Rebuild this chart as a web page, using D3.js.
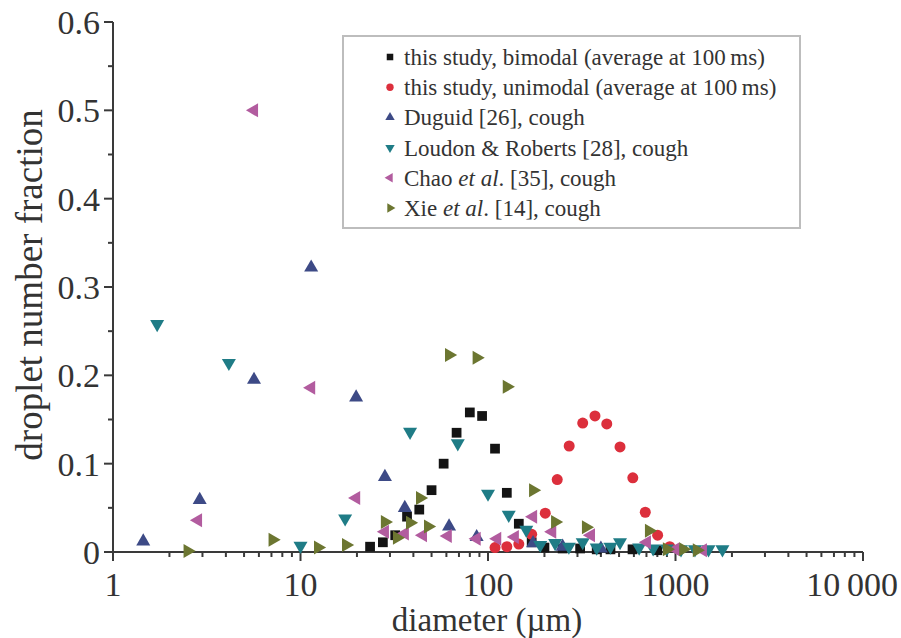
<!DOCTYPE html>
<head>
<meta charset="utf-8">
<title>Droplet number fraction</title>
<script type="text/javascript" src="https://d3js.org/d3.v7.min.js"></script>
<style>
  body { margin: 0; background: #fff; }
</style>
</head>
<body>
<div id="container"></div>
<script>
//---------------------------DATA-------------------------------//
// diameter (um) and number fraction
const bimodalD = [23.5, 27.5, 32, 37, 43, 50, 58, 68, 80, 93, 109, 126, 146, 171, 200, 250, 310, 380, 450, 590, 800];
const bimodalV = [0.006, 0.011, 0.019, 0.040, 0.048, 0.070, 0.100, 0.135, 0.158, 0.154, 0.117, 0.067, 0.032, 0.011, 0.005, 0.004, 0.004, 0.003, 0.003, 0.003, 0.002];

const unimodalD = [109, 126, 146, 171, 202, 234, 271, 320, 372, 430, 506, 592, 690, 803, 932];
const unimodalV = [0.005, 0.006, 0.009, 0.020, 0.044, 0.082, 0.120, 0.146, 0.154, 0.145, 0.119, 0.084, 0.045, 0.019, 0.006];

const duguidD = [1.45, 2.9, 5.65, 11.4, 19.8, 28.2, 36, 62, 87, 174, 250, 400];
const duguidV = [0.012, 0.059, 0.195, 0.322, 0.175, 0.085, 0.050, 0.029, 0.017, 0.010, 0.006, 0.004];

const loudonD = [1.72, 4.15, 10, 17.3, 38.4, 69, 100, 129, 160, 190, 228, 270, 320, 380, 450, 506, 640, 760, 900, 1070, 1270, 1500, 1780];
const loudonV = [0.258, 0.214, 0.007, 0.038, 0.136, 0.123, 0.066, 0.042, 0.025, 0.008, 0.010, 0.006, 0.011, 0.005, 0.006, 0.011, 0.005, 0.004, 0.004, 0.003, 0.003, 0.003, 0.003];

const chaoD = [2.84, 5.65, 11.4, 19.8, 28.2, 36, 45, 61, 87, 112, 139, 174, 220, 354, 704, 1000, 1400];
const chaoV = [0.036, 0.50, 0.186, 0.061, 0.023, 0.021, 0.019, 0.018, 0.015, 0.015, 0.017, 0.040, 0.023, 0.019, 0.011, 0.003, 0.002];

const xieD = [2.5, 7.1, 12.4, 17.5, 28.2, 32.7, 38.4, 43.4, 47.9, 62, 87, 126, 174, 228, 333, 722, 900, 1100, 1300];
const xieV = [0.001, 0.014, 0.005, 0.008, 0.034, 0.016, 0.033, 0.061, 0.029, 0.223, 0.220, 0.187, 0.070, 0.034, 0.028, 0.024, 0.003, 0.003, 0.002];

const yTicks = [0, 0.1, 0.2, 0.3, 0.4, 0.5, 0.6];
const yTickLabels = ["0", "0.1", "0.2", "0.3", "0.4", "0.5", "0.6"];
const xTicks = [1, 10, 100, 1000, 10000];
const xTickLabels = ["1", "10", "100", "1000", "10\u2009000"];

const seriesNames = [
  ["this study, bimodal (average at 100\u2009ms)"],
  ["this study, unimodal (average at 100\u2009ms)"],
  ["Duguid [26], cough"],
  ["Loudon & Roberts [28], cough"],
  ["Chao ", "et al", ". [35], cough"],
  ["Xie ", "et al", ". [14], cough"]
];

//---------------------------SVG--------------------------------//
const width = 901;
const height = 638;
const serif = "'Liberation Serif', 'Times New Roman', Times, 'DejaVu Serif', serif";
const textColor = "#333";
const svg = d3.select("div#container").append("svg")
    .attr("width", width)
    .attr("height", height)
    .style("font-family", serif);

//--------------------------SCALES------------------------------//
const x = d3.scaleLog().domain([1, 10000]).range([113, 863]);
const y = d3.scaleLinear().domain([0, 0.6]).range([552, 22]);

// series styles
const series = [
  {d: bimodalD, v: bimodalV, color: "#141414", shape: d3.symbolSquare, size: 95, rot: 0},
  {d: unimodalD, v: unimodalV, color: "#dc2f3c", shape: d3.symbolCircle, size: 95, rot: 0},
  {d: duguidD, v: duguidV, color: "#3d4a86", shape: d3.symbolTriangle, size: 85, rot: 0},
  {d: loudonD, v: loudonV, color: "#1f7c86", shape: d3.symbolTriangle, size: 85, rot: 180},
  {d: chaoD, v: chaoV, color: "#b25c9f", shape: d3.symbolTriangle, size: 85, rot: -90},
  {d: xieD, v: xieV, color: "#6c7631", shape: d3.symbolTriangle, size: 85, rot: 90}
];

//---------------------------AXES-------------------------------//
const axisColor = "#3a3a3a";
const gAxes = svg.append("g");

// y axis line
gAxes.append("line")
    .attr("x1", x(1)).attr("x2", x(1))
    .attr("y1", y(0)).attr("y2", y(0.6))
    .attr("stroke", axisColor).attr("stroke-width", 2);

// y ticks (major + minor, outside)
const yMinor = d3.range(0, 0.601, 0.05);
gAxes.selectAll(".ytick")
    .data(yMinor)
    .enter().append("line")
    .attr("x1", x(1))
    .attr("x2", function(d) { return Math.abs(d * 10 - Math.round(d * 10)) < 1e-6 ? x(1) - 9 : x(1) - 5; })
    .attr("y1", function(d) { return y(d); })
    .attr("y2", function(d) { return y(d); })
    .attr("stroke", axisColor).attr("stroke-width", 2);

gAxes.selectAll(".ylab")
    .data(yTicks)
    .enter().append("text")
    .attr("x", x(1) - 13)
    .attr("y", function(d) { return y(d); })
    .attr("dy", "0.35em")
    .attr("text-anchor", "end")
    .attr("fill", textColor)
    .style("font-family", serif)
    .style("font-size", "34px")
    .text(function(d, i) { return yTickLabels[i]; });

// x axis line
gAxes.append("line")
    .attr("x1", x(1)).attr("x2", x(10000))
    .attr("y1", y(0)).attr("y2", y(0))
    .attr("stroke", axisColor).attr("stroke-width", 2);

// x ticks, minor at 2..9 per decade
const xMinor = [];
[1, 10, 100, 1000].forEach(function(dec) {
  for (let k = 2; k <= 9; k++) xMinor.push(dec * k);
});
gAxes.selectAll(".xminor")
    .data(xMinor)
    .enter().append("line")
    .attr("x1", function(d) { return x(d); })
    .attr("x2", function(d) { return x(d); })
    .attr("y1", y(0)).attr("y2", y(0) + 5)
    .attr("stroke", axisColor).attr("stroke-width", 2);

gAxes.selectAll(".xmajor")
    .data(xTicks)
    .enter().append("line")
    .attr("x1", function(d) { return x(d); })
    .attr("x2", function(d) { return x(d); })
    .attr("y1", y(0)).attr("y2", y(0) + 9)
    .attr("stroke", axisColor).attr("stroke-width", 2);

// last label is pulled in so that it stays inside the picture
gAxes.selectAll(".xlab")
    .data(xTicks)
    .enter().append("text")
    .attr("x", function(d) { return d === 10000 ? 898 : x(d); })
    .attr("y", 596)
    .attr("text-anchor", function(d) { return d === 10000 ? "end" : "middle"; })
    .attr("fill", textColor)
    .style("font-family", serif)
    .style("font-size", "34px")
    .text(function(d, i) { return xTickLabels[i]; });

// axis titles
svg.append("text")
    .attr("x", 487)
    .attr("y", 631)
    .attr("text-anchor", "middle")
    .attr("fill", textColor)
    .style("font-family", serif)
    .style("font-size", "33px")
    .text("diameter (\u00b5m)");

svg.append("text")
    .attr("transform", "translate(42,285) rotate(-90)")
    .attr("text-anchor", "middle")
    .attr("fill", textColor)
    .style("font-family", serif)
    .style("font-size", "37px")
    .text("droplet number fraction");

//--------------------------POINTS------------------------------//
series.forEach(function(s) {
  const sym = d3.symbol().type(s.shape).size(s.size);
  svg.append("g").selectAll("path")
      .data(s.d.map(function(d, i) { return {d: d, v: s.v[i]}; }))
      .enter().append("path")
      .attr("d", sym)
      .attr("transform", function(p) {
        return "translate(" + x(p.d) + "," + y(p.v) + ") rotate(" + s.rot + ")";
      })
      .attr("fill", s.color);
});

//--------------------------LEGEND------------------------------//
const legend = svg.append("g");
legend.append("rect")
    .attr("x", 343).attr("y", 36)
    .attr("width", 457).attr("height", 192)
    .attr("fill", "#fff")
    .attr("stroke", "#bdbdbd").attr("stroke-width", 2);

series.forEach(function(s, i) {
  const ly = 57 + i * 30.2;
  legend.append("path")
      .attr("d", d3.symbol().type(s.shape).size(s.size * 0.45))
      .attr("transform", "translate(390," + ly + ") rotate(" + s.rot + ")")
      .attr("fill", s.color);
  const t = legend.append("text")
      .attr("x", 404)
      .attr("y", ly)
      .attr("dy", "0.35em")
      .attr("fill", textColor)
      .style("font-family", serif)
      .style("font-size", "23px");
  seriesNames[i].forEach(function(part, j) {
    t.append("tspan")
        .style("font-style", j === 1 ? "italic" : "normal")
        .text(part);
  });
});
</script>
</body>
